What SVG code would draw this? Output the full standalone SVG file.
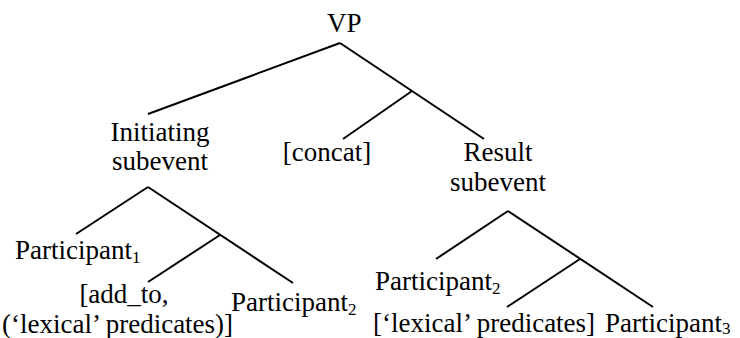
<svg xmlns="http://www.w3.org/2000/svg" width="740" height="338" viewBox="0 0 740 338">
<style>
text { font-family: "Liberation Serif", "Times New Roman", serif; font-size: 27px; fill: #000; }
.sub { font-size: 17px; }
.c line { stroke: #000; stroke-width: 2; }
</style>
<rect width="740" height="338" fill="#fff"/>
<g class="c" id="connectors">
<line x1="340" y1="43" x2="148" y2="114"/>
<line x1="340" y1="43" x2="484" y2="139"/>
<line x1="412" y1="91" x2="343" y2="139"/>
<line x1="148" y1="187" x2="76" y2="234"/>
<line x1="148" y1="187" x2="293" y2="283"/>
<line x1="220" y1="235" x2="148" y2="282"/>
<line x1="508" y1="211" x2="436" y2="259"/>
<line x1="508" y1="211" x2="653" y2="307"/>
<line x1="580" y1="259" x2="507" y2="307"/>
</g>
<g id="vp"><text x="327" y="32">VP</text></g>
<g id="initiating"><text x="160" y="141" text-anchor="middle">Initiating</text><text x="160" y="170" text-anchor="middle">subevent</text></g>
<g id="concat"><text x="327" y="161" text-anchor="middle">[concat]</text></g>
<g id="result"><text x="498" y="161" text-anchor="middle">Result</text><text x="498" y="191" text-anchor="middle">subevent</text></g>
<g id="participant1"><text x="15" y="259">Participant<tspan class="sub" dy="4">1</tspan></text></g>
<g id="add_to"><text x="124" y="303" text-anchor="middle">[add_to,</text><text x="2" y="333">(‘lexical’ predicates)]</text></g>
<g id="participant2a"><text x="231" y="311">Participant<tspan class="sub" dy="4">2</tspan></text></g>
<g id="participant2b"><text x="375" y="290">Participant<tspan class="sub" dy="4">2</tspan></text></g>
<g id="lexical"><text x="373" y="332">[‘lexical’ predicates]</text></g>
<g id="participant3"><text x="605" y="332">Participant<tspan class="sub" dy="2">3</tspan></text></g>
</svg>
